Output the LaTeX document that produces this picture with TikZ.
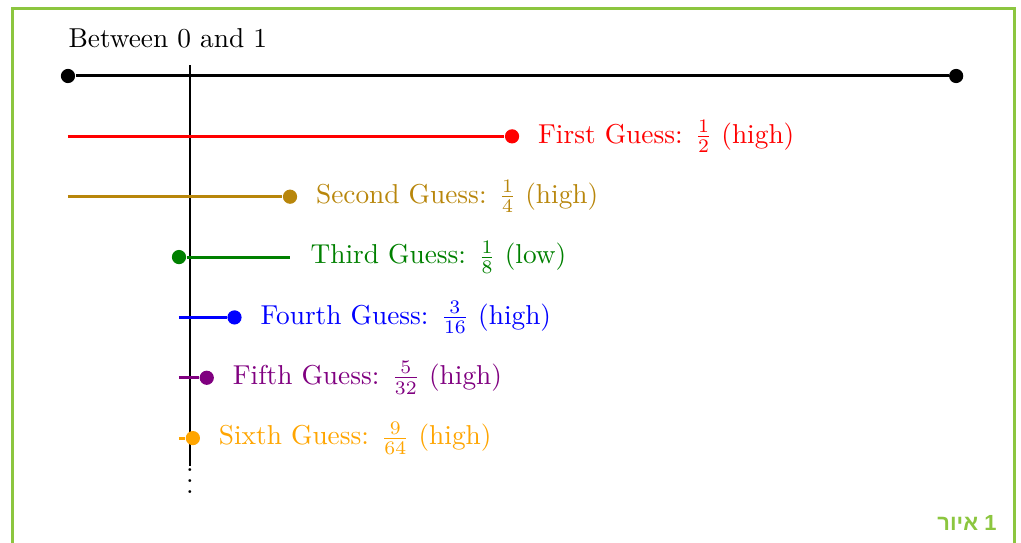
\documentclass[tikz,border=0pt]{standalone}
\usepackage{fontspec}
\newfontfamily\hebfont[Script=Hebrew]{Liberation Sans}
\usetikzlibrary{positioning}
\definecolor{framegreen}{RGB}{140,198,63}
\definecolor{guessbrown}{RGB}{184,134,11}
\definecolor{guessgreen}{RGB}{0,128,0}
\definecolor{guesspurple}{RGB}{128,0,128}
\definecolor{guessorange}{RGB}{255,165,0}
\tikzset{
  guess/.style={line width=1.1pt},
  pt/.style={circle,fill,inner sep=0pt,minimum size=5.2pt},
  lbl/.style={right=3.2pt of #1}
}
\begin{document}
\begin{tikzpicture}[x=11.42cm,y=0.776cm]
  \useasboundingbox (-0.874cm,-5.992cm) rectangle (12.254cm,0.977cm);
  \clip (-0.874cm,-5.992cm) rectangle (12.254cm,0.977cm);
  % frame, open at the bottom
  \draw[framegreen,line width=1.1pt] (-0.714cm,-6.2cm) -- (-0.714cm,0.868cm)
    -- (12.164cm,0.868cm) -- (12.164cm,-6.2cm);
  \node[anchor=base east,inner sep=0pt,text=framegreen,font=\hebfont\bfseries\footnotesize] (cap) at (11.945cm,-5.838cm) {איור 1};
  % the guessed number
  \coordinate (v0) at (0.1372,0.18);
  \coordinate (v1) at (0.1372,-6.46);
  \draw[line width=0.7pt] (v0) -- (v1);
  \node[inner sep=0pt] (dots) at (0.1372,-6.58) {$\vdots$};
  % unit interval
  \node[anchor=base west,inner sep=0pt] (title) at (0,0.36cm) {Between 0 and 1};
  \node[pt] (zero) at (0,0) {};
  \node[pt] (one) at (1,0) {};
  \draw[guess] (zero) -- (one);
  % first guess
  \coordinate (a0) at (0,-1);
  \node[pt,red] (a1) at (1/2,-1) {};
  \draw[guess,red] (a0) -- (a1);
  \node[lbl=a1,red] (la) {First Guess: $\frac{1}{2}$ (high)};
  % second guess
  \coordinate (b0) at (0,-2);
  \node[pt,guessbrown] (b1) at (1/4,-2) {};
  \draw[guess,guessbrown] (b0) -- (b1);
  \node[lbl=b1,guessbrown] (lb) {Second Guess: $\frac{1}{4}$ (high)};
  % third guess
  \node[pt,guessgreen] (c0) at (1/8,-3) {};
  \coordinate (c1) at (1/4,-3);
  \draw[guess,guessgreen] (c0) -- (c1);
  \node[right=4pt of c1,guessgreen] (lc) {Third Guess: $\frac{1}{8}$ (low)};
  % fourth guess
  \coordinate (d0) at (1/8,-4);
  \node[pt,blue] (d1) at (3/16,-4) {};
  \draw[guess,blue] (d0) -- (d1);
  \node[lbl=d1,blue] (ld) {Fourth Guess: $\frac{3}{16}$ (high)};
  % fifth guess
  \coordinate (e0) at (1/8,-5);
  \node[pt,guesspurple] (e1) at (5/32,-5) {};
  \draw[guess,guesspurple] (e0) -- (e1);
  \node[lbl=e1,guesspurple] (le) {Fifth Guess: $\frac{5}{32}$ (high)};
  % sixth guess
  \coordinate (f0) at (1/8,-6);
  \node[pt,guessorange] (f1) at (9/64,-6) {};
  \draw[guess,guessorange] (f0) -- (f1);
  \node[lbl=f1,guessorange] (lf) {Sixth Guess: $\frac{9}{64}$ (high)};
\end{tikzpicture}
\end{document}
